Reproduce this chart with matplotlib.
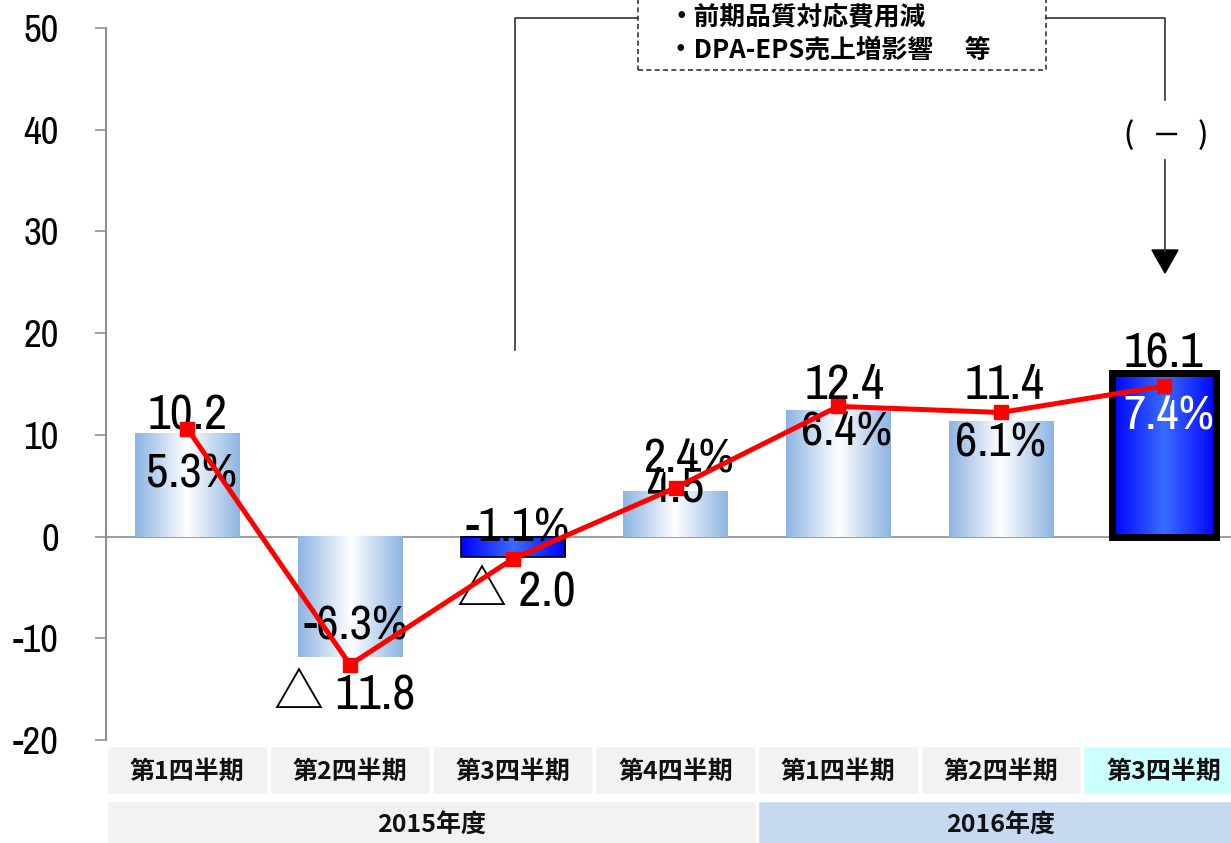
import matplotlib
matplotlib.use('Agg')
import matplotlib.pyplot as plt
import numpy as np
from matplotlib.colors import LinearSegmentedColormap
from matplotlib.patches import Rectangle, Polygon
from matplotlib.lines import Line2D
from matplotlib.transforms import blended_transform_factory

# ---------------- data ----------------
quarters = ['第1四半期', '第2四半期', '第3四半期', '第4四半期', '第1四半期', '第2四半期', '第3四半期']
years = ['2015年度', '2016年度']
year_spans = [4, 3]
profit = [10.2, -11.8, -2.0, 4.5, 12.4, 11.4, 16.1]
margin = [5.3, -6.3, -1.1, 2.4, 6.4, 6.1, 7.4]
profit_labels = ['10.2', '△ 11.8', '△ 2.0', '4.5', '12.4', '11.4', '16.1']
margin_labels = ['5.3%', '-6.3%', '-1.1%', '2.4%', '6.4%', '6.1%', '7.4%']
highlight = [False, False, True, False, False, False, True]
yticks = [-20, -10, 0, 10, 20, 30, 40, 50]
note_lines = ['・前期品質対応費用減', '・DPA-EPS売上増影響　 等']
note_sign = ['(', '－', ')']

# ---------------- style ----------------
W, H, DPI = 1231, 843, 100
NUM_FONT = ['Archivo Narrow', 'Barlow Semi Condensed', 'Noto Sans CJK JP', 'DejaVu Sans']
JP_FONT = ['Noto Sans CJK JP', 'DejaVu Sans']
plt.rcParams['font.family'] = NUM_FONT

# label offsets (baseline, data units) relative to the bar value
val_dy = [0.3, -5.2, -4.9, -1.1, 1.1, 2.1, 0.5]
val_dx = [0.0, -0.035, 0.02, 0.0, 0.04, 0.02, 0.0]
mar_dy = [-5.4, 1.7, 1.5, 1.8, -3.4, -3.5, -5.6]
mar_dx = [0.025, 0.035, 0.03, 0.08, 0.05, 0.0, 0.03]

fig = plt.figure(figsize=(W / DPI, H / DPI), dpi=DPI)
ax = fig.add_axes([106 / W, 1 - 740 / H, 1139 / W, 712 / H])
ax.set_xlim(-0.5, 6.5)
ax.set_ylim(-20, 50)

for s in ['top', 'right', 'bottom']:
    ax.spines[s].set_visible(False)
ax.spines['left'].set_color('#909090')
ax.spines['left'].set_linewidth(1.5)
ax.set_yticks(yticks)
ax.set_yticklabels([str(t) for t in yticks], fontsize=28)
ax.tick_params(axis='y', length=8, width=1.2, color='#909090', pad=26)
ax.set_xticks([])
ax.axhline(0, color='#a0a0a0', lw=1.5, zorder=1)

light_cmap = LinearSegmentedColormap.from_list('light', ['#8db4e2', '#ffffff', '#8db4e2'])
blue_cmap = LinearSegmentedColormap.from_list('blue', ['#0000ff', '#3a6cff', '#0000ff'])
grad = np.linspace(0, 1, 256).reshape(1, -1)
bw = 0.64
x = np.arange(len(profit))
for i, v in enumerate(profit):
    bottom, top = min(0, v), max(0, v)
    cmap = blue_cmap if highlight[i] else light_cmap
    ax.imshow(grad, extent=[i - bw / 2, i + bw / 2, bottom, top], aspect='auto',
              cmap=cmap, zorder=2, interpolation='bicubic')
    if highlight[i]:
        lw = 5 if i == len(profit) - 1 else 1.2
        ax.add_patch(Rectangle((i - bw / 2, bottom), bw, top - bottom, fill=False,
                               edgecolor='black', lw=lw, zorder=3))
ax.set_xlim(-0.5, 6.5)
ax.set_ylim(-20, 50)

for i, v in enumerate(profit):
    ax.text(i + val_dx[i], v + val_dy[i], profit_labels[i], ha='center', va='baseline',
            fontsize=36, color='black', zorder=4)
    ax.text(i + mar_dx[i], v + mar_dy[i], margin_labels[i], ha='center', va='baseline',
            fontsize=35, color='white' if i == len(profit) - 1 else 'black', zorder=4)

# margin line on hidden secondary axis
ax2 = ax.twinx()
ax2.set_ylim(-10, 25)
ax2.plot(x, margin, color='#ff0000', lw=3.6, marker='s', ms=10, zorder=5)
ax2.axis('off')
ax2.set_xlim(-0.5, 6.5)

# category table below
tr = blended_transform_factory(ax.transData, ax.transAxes)
for i, q in enumerate(quarters):
    col = '#ccffff' if i == len(quarters) - 1 else '#f2f2f2'
    ax.add_patch(Rectangle((i - 0.5, -0.077), 1, 0.070, transform=tr, facecolor=col,
                           edgecolor='white', lw=2.5, clip_on=False))
    ax.text(i, -0.045, q, transform=tr, ha='center', va='center', fontsize=18,
            fontweight='bold', family=JP_FONT, color='#111111')
start = 0
ycols = ['#f2f2f2', '#c6d9f1']
for j, (yl, sp) in enumerate(zip(years, year_spans)):
    ax.add_patch(Rectangle((start - 0.5, -0.17), sp, 0.086, transform=tr, facecolor=ycols[j],
                           edgecolor='white', lw=2.5, clip_on=False))
    ax.text(start - 0.5 + sp / 2, -0.121, yl, transform=tr, ha='center', va='center',
            fontsize=18, fontweight='bold', family=JP_FONT, color='#111111')
    start += sp

# annotation (figure pixel coordinates)
def fx(px):
    return px / W

def fy(py):
    return 1 - py / H

def fline(xs, ys, **kw):
    fig.add_artist(Line2D([fx(a) for a in xs], [fy(b) for b in ys], transform=fig.transFigure,
                          color='#333333', lw=1.2, **kw))

fline([515, 515, 638], [350, 18, 18])
fline([1046, 1165, 1165], [18, 18, 100])
fline([1165, 1165], [160, 252])
fig.add_artist(Polygon([(fx(1152), fy(250)), (fx(1178), fy(250)), (fx(1165), fy(273))],
                       closed=True, transform=fig.transFigure, color='black'))
fig.add_artist(Rectangle((fx(638), fy(70)), fx(1046) - fx(638), fy(-5) - fy(70),
                         transform=fig.transFigure, fill=False, edgecolor='#333333',
                         lw=1.2, linestyle=(0, (3, 2))))
fig.text(fx(668), fy(18), note_lines[0], ha='left', va='center', fontsize=18.5,
         fontweight='bold', family=JP_FONT)
fig.text(fx(668), fy(50), note_lines[1], ha='left', va='center', fontsize=18.5,
         fontweight='bold', family=JP_FONT)
for px, ch in zip([1129, 1166, 1203], note_sign):
    fig.text(fx(px), fy(136), ch, ha='center', va='center', fontsize=21,
             fontweight='medium', family=JP_FONT)

fig.savefig('out.png', dpi=DPI)
